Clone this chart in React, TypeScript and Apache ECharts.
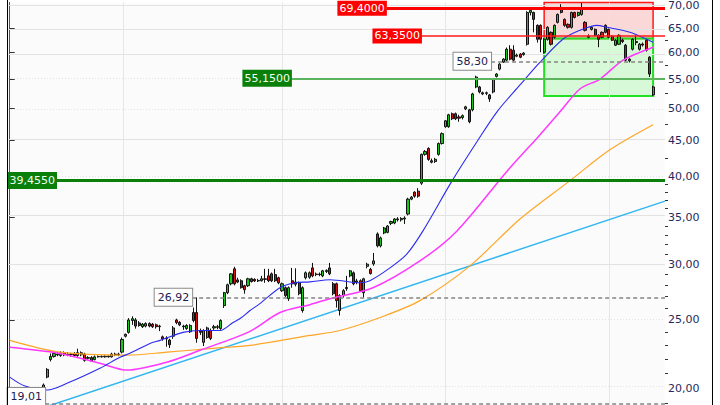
import React, { useEffect, useRef } from 'react';
import * as echarts from 'echarts';

// ---------- data ----------
const candleStart = 2; // day index of first candle
// [open, close, low, high]
const ohlc: number[][] = [
  [19.74, 19.23, 19.10, 19.85], [19.25, 19.20, 19.05, 19.35], [19.20, 19.30, 19.01, 19.40], [19.45, 19.50, 19.35, 19.60],
  [19.50, 19.45, 19.35, 19.65], [19.45, 19.55, 19.35, 19.65], [19.50, 19.70, 19.45, 19.75], [19.60, 19.80, 19.50, 19.90],
  [19.80, 20.20, 19.75, 20.30], [20.73, 21.26, 20.65, 21.35], [21.96, 22.18, 21.82, 22.40],
  // 13
  [22.18, 22.40, 22.10, 22.55], [22.35, 22.30, 22.20, 22.50], [22.25, 22.45, 22.15, 22.55], [22.45, 22.30, 22.20, 22.55],
  [22.30, 22.35, 22.20, 22.50], [22.35, 22.33, 22.15, 22.45], [22.40, 22.25, 22.15, 22.50], [22.25, 22.45, 22.15, 22.75],
  [22.45, 22.30, 22.20, 22.55], [22.35, 21.90, 21.80, 22.45], [22.05, 22.10, 21.95, 22.20], [22.10, 21.85, 21.80, 22.20],
  [21.95, 22.15, 21.90, 22.25], [22.15, 22.18, 22.10, 22.25], [22.18, 22.15, 22.10, 22.25], [22.15, 22.20, 22.10, 22.25],
  [22.20, 22.15, 22.10, 22.25], [22.15, 22.35, 22.10, 22.45], [22.35, 22.30, 22.20, 22.45], [22.30, 22.35, 22.20, 22.45],
  // 33
  [22.50, 23.45, 22.40, 23.60], [23.70, 23.85, 23.60, 23.90], [24.00, 25.00, 23.90, 25.15], [24.95, 25.10, 24.60, 25.30],
  [25.00, 24.50, 24.30, 25.15], [24.75, 24.55, 24.45, 24.90], [24.45, 24.65, 24.35, 24.75], [24.50, 24.70, 24.40, 24.80],
  [24.70, 24.50, 24.40, 24.80], [24.65, 24.45, 24.35, 24.75], [24.60, 24.45, 24.30, 24.70], [24.50, 24.45, 24.10, 24.60],
  // 45
  [23.65, 23.50, 23.35, 23.75], [23.50, 23.55, 22.90, 23.70], [23.40, 23.05, 22.80, 23.50], [23.70, 24.35, 23.50, 24.50],
  [25.00, 24.78, 24.65, 25.10], [24.80, 24.60, 24.50, 24.90], [24.45, 24.50, 24.20, 24.60], [24.30, 24.55, 24.20, 24.65],
  [24.05, 24.55, 23.95, 24.65], [25.61, 24.95, 24.80, 26.03], [25.61, 23.53, 23.20, 26.92],
  // 56
  [24.10, 24.00, 23.80, 24.30], [23.23, 24.15, 22.95, 24.25], [23.61, 24.35, 23.50, 24.45], [24.15, 23.53, 23.40, 24.30],
  [24.35, 24.45, 24.20, 24.60], [24.45, 24.40, 24.25, 24.60], [24.31, 24.95, 24.20, 25.05], [26.20, 27.33, 26.00, 27.40],
  [27.33, 28.05, 27.20, 28.15], [28.14, 29.07, 28.00, 29.15], [29.55, 28.14, 28.00, 29.75], [28.50, 28.30, 28.20, 28.70],
  [28.42, 27.78, 27.70, 28.55], [27.96, 27.60, 27.24, 28.05], [27.96, 28.60, 27.85, 28.70], [28.60, 28.35, 28.25, 28.70],
  [28.55, 28.40, 28.30, 28.65], [28.40, 28.45, 28.30, 28.60], [28.42, 28.60, 28.35, 28.88], [28.60, 28.55, 28.23, 29.55],
  [28.88, 28.42, 28.30, 29.55], [29.07, 28.42, 28.30, 29.20], [29.00, 28.42, 28.30, 29.55], [28.70, 28.23, 28.10, 28.80],
  // 80
  [27.51, 28.14, 27.40, 28.25], [27.78, 27.07, 26.95, 27.90], [26.80, 27.78, 26.60, 27.90], [28.42, 28.14, 27.78, 29.64],
  [28.30, 28.10, 27.90, 29.60], [28.23, 27.24, 27.10, 28.35], [25.78, 27.78, 25.60, 27.90], [28.70, 29.17, 28.55, 29.30],
  [28.75, 29.17, 28.60, 29.30], [29.64, 28.88, 28.75, 30.13], [29.00, 29.05, 28.85, 29.20], [29.05, 29.00, 28.85, 29.20],
  [28.88, 29.36, 28.75, 29.45], [29.30, 29.40, 29.15, 29.50], [29.64, 29.07, 28.95, 30.13], [28.14, 27.24, 27.10, 28.30],
  [28.14, 26.63, 26.03, 28.25], [25.78, 27.07, 25.36, 27.20], [27.07, 27.51, 26.90, 27.65], [27.70, 27.80, 27.50, 28.88],
  // 100
  [28.88, 29.36, 28.75, 29.45], [29.17, 28.14, 28.00, 29.30], [28.30, 28.40, 28.10, 28.60], [28.42, 27.51, 27.40, 28.55],
  [27.33, 28.60, 26.89, 28.70], [29.80, 30.00, 29.60, 30.15], [29.50, 29.10, 29.00, 29.65], [30.03, 30.33, 29.85, 31.13],
  [33.13, 31.86, 31.70, 33.30], [31.86, 32.70, 31.70, 32.85], [33.24, 33.78, 33.10, 33.90], [33.30, 34.00, 33.20, 34.10],
  [34.30, 34.50, 34.10, 34.60], [34.34, 34.79, 34.20, 34.90], [34.80, 34.70, 34.50, 35.00], [34.70, 34.85, 34.50, 35.00],
  [34.79, 34.90, 34.23, 35.10], [35.36, 37.13, 35.20, 37.30], [37.13, 37.37, 37.00, 37.50], [37.99, 37.49, 37.30, 38.10],
  // 120
  [38.11, 37.49, 37.30, 38.49], [39.12, 42.99, 38.90, 43.10], [42.99, 43.41, 42.80, 43.60], [43.83, 42.29, 42.10, 44.00],
  [42.10, 41.90, 41.75, 42.40], [42.00, 42.30, 41.80, 42.50], [42.99, 44.54, 42.80, 44.70], [44.54, 46.01, 44.40, 46.20],
  [47.07, 47.99, 46.90, 48.10], [47.07, 48.94, 46.90, 49.10], [49.10, 48.31, 48.10, 49.30], [49.10, 48.31, 48.10, 49.30],
  [48.60, 48.40, 47.84, 48.94], [48.50, 48.80, 48.20, 49.00], [49.90, 50.23, 49.70, 50.40], [49.74, 47.84, 47.60, 49.90],
  [49.74, 52.40, 49.50, 52.60], [53.61, 55.38, 53.40, 55.60], [53.61, 52.74, 52.50, 53.80], [52.40, 52.60, 52.20, 52.80],
  // 140
  [52.60, 52.50, 52.20, 52.80], [52.23, 51.55, 51.05, 52.40], [52.74, 55.02, 52.50, 55.20], [55.50, 55.92, 55.30, 56.10],
  [56.84, 57.77, 56.60, 57.95], [58.15, 58.72, 58.00, 58.90], [58.53, 60.66, 58.30, 61.00], [60.66, 58.72, 58.50, 61.46],
  [60.47, 58.53, 58.30, 61.46], [59.30, 59.50, 59.10, 59.80], [59.69, 59.10, 58.90, 59.90], [59.60, 59.90, 59.40, 60.10],
  [61.66, 68.43, 61.40, 68.70], [68.43, 68.90, 67.76, 69.55], [68.43, 66.89, 64.11, 68.60], [65.59, 62.67, 62.00, 65.80],
  [65.59, 62.67, 60.07, 65.80], [60.07, 62.67, 59.80, 62.90], [62.67, 65.17, 62.40, 65.40], [64.11, 61.66, 61.40, 64.30],
  // 160
  [63.08, 65.59, 62.80, 65.80], [66.24, 67.98, 66.00, 68.20], [69.55, 68.43, 68.20, 70.30], [66.89, 65.59, 65.30, 67.10],
  [65.81, 65.17, 64.90, 66.00], [65.17, 68.43, 64.90, 68.60], [68.43, 67.32, 67.10, 68.60], [67.76, 68.43, 67.50, 68.60],
  [67.98, 69.40, 67.70, 70.60], [66.24, 64.53, 64.30, 66.50], [63.30, 63.08, 62.90, 63.70], [64.74, 65.17, 64.50, 65.40],
  [64.74, 63.49, 63.30, 64.90], [63.49, 62.67, 61.06, 63.70], [64.11, 63.08, 62.90, 64.30], [65.59, 64.11, 63.90, 65.80],
  [64.74, 63.08, 62.90, 64.90], [63.30, 62.47, 62.30, 63.50], [61.46, 62.47, 61.30, 62.70], [61.66, 63.49, 61.50, 63.70],
  // 180
  [62.50, 62.20, 61.90, 62.80], [61.46, 58.53, 58.30, 61.70], [58.72, 58.40, 58.10, 58.90], [60.66, 62.67, 60.40, 62.90],
  [62.20, 62.00, 61.46, 63.49], [60.66, 61.66, 60.40, 61.90], [61.70, 61.50, 61.20, 62.00], [62.47, 60.47, 60.20, 62.70],
  [59.10, 55.92, 55.38, 59.30], [52.23, 53.61, 52.06, 53.80],
];

// moving averages: [day index, price]
const blueMA: number[][] = [
  [0, 20.73], [4.5, 20.13], [11, 19.87], [17, 20.33], [26.5, 21.34], [32.4, 22.12], [35.3, 22.41], [41.2, 23.15],
  [44.2, 23.38], [50.9, 24.0], [55.9, 24.15], [61.8, 24.15], [65.6, 24.79], [67.7, 25.11], [70.6, 25.78], [73.5, 26.37],
  [79.4, 27.78], [83.8, 28.23], [88.2, 28.32], [94.1, 28.51], [102.9, 28.23], [105.8, 28.42], [111.7, 29.64],
  [116.7, 31.03], [121.4, 33.46], [129.9, 39.38], [137.3, 44.84], [143.2, 49.46], [149.9, 53.96], [155.8, 58.15],
  [162.5, 62.67], [167.5, 64.53], [172.5, 65.59], [175.5, 65.17], [182.2, 64.11], [187.2, 62.67], [189, 62.06],
];
const magentaMA: number[][] = [
  [0, 22.85], [14.2, 22.41], [26.5, 21.69], [34.5, 21.21], [46.2, 21.77], [55.9, 22.63], [70.6, 24.08], [79.4, 25.61],
  [88.2, 26.28], [94.1, 26.8], [106.7, 27.78], [120.5, 30.33], [131.4, 33.46], [146.1, 40.68], [155.8, 45.86],
  [161.7, 49.46], [167.5, 53.26], [173.4, 55.02], [180.2, 58.53], [189, 61.06],
];
const orangeMA: number[][] = [
  [0, 23.38], [14.8, 22.49], [34.5, 22.27], [46.2, 22.49], [59.7, 22.78], [70.6, 23.0], [88.2, 23.76], [97, 24.15],
  [108.8, 25.2], [120.5, 26.63], [135.2, 29.84], [149.9, 34.79], [164.6, 39.45], [176.4, 43.67], [189, 47.37],
];
const trendLine: number[][] = [[0, 18.08], [192.5, 36.89]];

const yTicks = [20, 25, 30, 35, 40, 45, 50, 55, 60, 65, 70];
const yMinorTicks = [19, 21, 22, 23, 24, 26, 27, 28, 29, 31, 32, 33, 34, 36, 37, 38, 39, 42.5, 47.5, 52.5, 57.5, 62.5, 67.5];
const dottedGridTicks = [20, 25, 40, 50, 55];
const periodBreaks = [33.5, 80, 128, 176];
const yMin = 18.92;
const yMax = 70.69;
const xMin = -0.5;
const xMax = 192.5;

// horizontal price levels: value, text, day index where drawn from, style kind
const levels = [
  { value: 69.4, text: '69,4000', start: 110.8, kind: 'redBold' },
  { value: 63.35, text: '63,3500', start: 121.1, kind: 'red' },
  { value: 58.3, text: '58,30', start: 141.4, kind: 'dash' },
  { value: 55.15, text: '55,1500', start: 82.9, kind: 'greenLight' },
  { value: 39.455, text: '39,4550', start: 13.9, kind: 'greenBold' },
  { value: 26.92, text: '26,92', start: 53.6, kind: 'dash' },
  { value: 19.01, text: '19,01', start: 10.4, kind: 'dashLow' },
];
// zones: day range and price range
const zones = [
  { from: 157, to: 189, top: 70.69, bottom: 62.85, kind: 'red' },
  { from: 157, to: 189, top: 62.85, bottom: 52.06, kind: 'green' },
];

const L = (v: number) => Math.log(v);
const FONT = 'DejaVu Sans';

const whiteLabel = { backgroundColor: '#ffffff', color: '#1a2050', borderColor: '#8a8a8a', borderWidth: 1, padding: [2, 3] };
const levelStyle: Record<string, any> = {
  redBold: { line: { color: '#ff0000', width: 3, type: 'solid' }, label: { backgroundColor: '#ff0000', color: '#ffffff', padding: [1, 2] } },
  red: { line: { color: '#ff1a1a', width: 1.5, type: 'solid' }, label: { backgroundColor: '#ff0000', color: '#ffffff', padding: [1, 2] } },
  greenLight: { line: { color: '#5cb55c', width: 2, type: 'solid' }, label: { backgroundColor: '#0a800a', color: '#f0fff0', padding: [2, 2] } },
  greenBold: { line: { color: '#0a800a', width: 3, type: 'solid' }, label: { backgroundColor: '#0a800a', color: '#f0fff0', padding: [2, 2] } },
  dash: { line: { color: '#858585', width: 1.5, type: [4, 3] }, label: whiteLabel },
  dashLow: { line: { color: '#858585', width: 1.5, type: [4, 3] }, label: { ...whiteLabel, offset: [0, -7] } },
};

const zoneStyle: Record<string, any> = {
  red: { color: 'rgba(255,60,60,0.18)', borderColor: '#ff1a1a', borderWidth: 1.5 },
  green: { color: 'rgba(40,240,40,0.16)', borderColor: '#22e022', borderWidth: 2 },
};

export default function App() {
  const ref = useRef<HTMLDivElement>(null);
  useEffect(() => {
    if (!ref.current) return;
    const chart = echarts.init(ref.current, undefined, { renderer: 'svg' });
    const fmt = (v: number) => Math.exp(v).toFixed(2).replace('.', ',');

    const candleData = ohlc.map((c, k) => [candleStart + k, L(c[0]), L(c[1]), L(c[2]), L(c[3])]);
    const toLn = (arr: number[][]) => arr.map(([i, p]) => [i, L(p)]);

    const gridLines: any[] = [
      ...yTicks.map((v) => ({
        yAxis: L(v),
        lineStyle: { color: '#e2e2e2', width: 1, type: dottedGridTicks.includes(v) ? [1, 2] : 'solid' },
      })),
      ...periodBreaks.map((x) => ({ xAxis: x, lineStyle: { color: '#e6e6e6', width: 1, type: 'solid' } })),
    ];

    const levelLines = levels.map((lv) => {
      const st = levelStyle[lv.kind];
      return [
        {
          coord: [lv.start, L(lv.value)],
          lineStyle: st.line,
          label: {
            show: true,
            position: 'start',
            distance: 0,
            formatter: lv.text,
            fontFamily: FONT,
            fontSize: 11,
            lineHeight: 13,
            ...st.label,
          },
        },
        { coord: [xMax, L(lv.value)] },
      ];
    });

    const zoneAreas = zones.map((z) => [
      { coord: [z.from, L(z.top)], itemStyle: zoneStyle[z.kind] },
      { coord: [z.to, L(z.bottom)] },
    ]);

    const option: any = {
      animation: false,
      backgroundColor: '#ffffff',
      grid: { left: 8, right: 55, top: 0, bottom: 0, show: true, backgroundColor: '#fafbfa', borderWidth: 0 },
      xAxis: { type: 'value', min: xMin, max: xMax, show: false },
      yAxis: [
        {
          type: 'value',
          position: 'right',
          min: L(yMin),
          max: L(yMax),
          axisLine: { show: true, lineStyle: { color: '#555555', width: 1 } },
          axisTick: { show: true, customValues: yTicks.map(L), length: 5, lineStyle: { color: '#333333' } },
          axisLabel: {
            show: true,
            customValues: yTicks.map(L),
            formatter: fmt,
            color: '#1f2a5c',
            fontFamily: FONT,
            fontSize: 11,
            margin: 3,
          },
          splitLine: { show: false },
        },
        {
          type: 'value',
          position: 'right',
          min: L(yMin),
          max: L(yMax),
          axisLine: { show: false },
          axisTick: { show: true, customValues: yMinorTicks.map(L), length: 3, lineStyle: { color: '#333333' } },
          axisLabel: { show: false },
          splitLine: { show: false },
        },
      ],
      series: [
        {
          type: 'line',
          name: 'trend',
          data: toLn(trendLine),
          symbol: 'none',
          silent: true,
          lineStyle: { color: '#2fb6f0', width: 1.5 },
          z: 2,
          markLine: { silent: true, z: 1, symbol: ['none', 'none'], label: { show: false }, data: gridLines },
        },
        {
          type: 'candlestick',
          name: 'price',
          data: candleData,
          encode: { x: 0, y: [1, 2, 3, 4] },
          barWidth: 2.6,
          silent: true,
          itemStyle: {
            color: '#18c818',
            color0: '#d41010',
            borderColor: '#111111',
            borderColor0: '#111111',
            borderWidth: 1,
          },
          z: 2,
          markArea: { silent: true, z: 1, data: zoneAreas },
          markLine: { silent: true, z: 5, symbol: ['none', 'none'], data: levelLines },
        },
        {
          type: 'line', name: 'ma-orange', data: toLn(orangeMA), symbol: 'none', smooth: 0.3, silent: true,
          lineStyle: { color: '#ffa526', width: 1.2 }, z: 3,
        },
        {
          type: 'line', name: 'ma-magenta', data: toLn(magentaMA), symbol: 'none', smooth: 0.3, silent: true,
          lineStyle: { color: '#ff38ff', width: 1.5 }, z: 3,
        },
        {
          type: 'line', name: 'ma-blue', data: toLn(blueMA), symbol: 'none', smooth: 0.3, silent: true,
          lineStyle: { color: '#2b2bf0', width: 1.1 }, z: 3,
        },
      ],
      graphic: [
        { type: 'line', shape: { x1: 7.5, y1: 0, x2: 7.5, y2: 405 }, style: { stroke: '#000000', lineWidth: 1 }, z: 100 },
        { type: 'line', shape: { x1: 712.5, y1: 0, x2: 712.5, y2: 405 }, style: { stroke: '#000000', lineWidth: 1 }, z: 100 },
      ],
    };
    chart.setOption(option);
    return () => chart.dispose();
  }, []);
  return (
    <div
      ref={ref}
      style={{ position: 'fixed', left: 0, top: 0, width: 720, height: 405, background: '#ffffff' }}
    />
  );
}
